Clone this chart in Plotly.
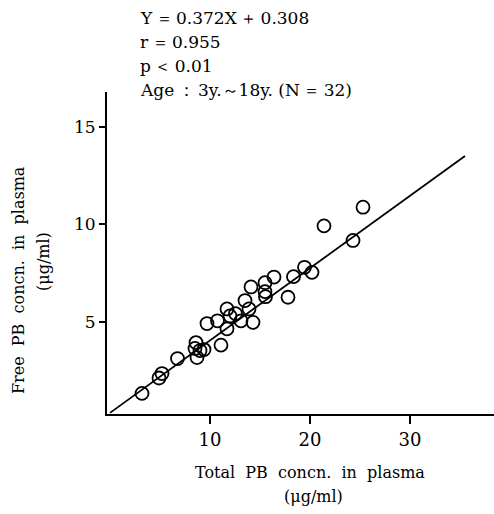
import plotly.graph_objects as go

# Data
total_pb = [3.2, 4.9, 5.2, 6.75, 8.6, 8.5, 9.0, 9.4, 8.7, 11.1, 9.7, 10.75, 11.7, 11.7, 12.0, 12.55,
            13.1, 14.3, 13.5, 13.9, 14.1, 15.5, 15.5, 15.55, 16.4, 17.8, 18.35, 19.45, 20.2, 21.4, 24.3, 25.3]
free_pb = [1.31, 2.10, 2.33, 3.10, 3.92, 3.62, 3.51, 3.56, 3.15, 3.79, 4.90, 5.04, 5.65, 4.63, 5.29, 5.41,
           5.04, 4.96, 6.08, 5.65, 6.78, 7.0, 6.54, 6.28, 7.29, 6.25, 7.31, 7.79, 7.53, 9.92, 9.17, 10.88]
slope = 0.372
intercept = 0.308
line_x = [0, 35.5]
line_y = [slope * x + intercept for x in line_x]
x_ticks = [10, 20, 30]
y_ticks = [5, 10, 15]
stats_lines = ["Y\u2009＝\u20090.372X\u2009＋\u20090.308", "r\u2009＝\u20090.955", "p\u2009＜\u20090.01",
               "Age\u2009：\u20093y.～18y.\u00a0(N\u2009＝\u200932)"]
x_title = "Total\u00a0\u00a0PB\u00a0\u00a0concn.\u00a0\u00a0in\u00a0\u00a0plasma"
y_title = "Free\u00a0\u00a0PB\u00a0\u00a0concn.\u00a0\u00a0in\u00a0\u00a0plasma"
unit = "(μg/ml)"

W, H = 494, 514
L, R, T, B = 107, 0, 92, 100
PW, PH = W - L - R, H - T - B


def px(x):
    return (x - L) / PW


def py(y):
    return (H - B - y) / PH


FONT = "DejaVu Serif, Liberation Serif, serif"

fig = go.Figure()
fig.add_trace(go.Scatter(x=line_x, y=line_y, mode="lines",
                         line=dict(color="black", width=1.8), showlegend=False))
fig.add_trace(go.Scatter(x=total_pb, y=free_pb, mode="markers",
                         marker=dict(symbol="circle-open", size=13, color="black",
                                     line=dict(width=1.8, color="black")),
                         showlegend=False))

fig.update_xaxes(range=[-0.3, 38.4], tickvals=x_ticks, ticks="outside", ticklen=8, tickwidth=1.5,
                 tickcolor="black", showline=True, linecolor="black", linewidth=2,
                 showgrid=False, zeroline=False,
                 tickfont=dict(family=FONT, size=18, color="black"))
fig.update_yaxes(range=[0.25, 16.8], tickvals=y_ticks, ticks="outside", ticklen=6, tickwidth=1.5,
                 tickcolor="black", showline=True, linecolor="black", linewidth=2,
                 showgrid=False, zeroline=False,
                 tickfont=dict(family=FONT, size=17, color="black"))

ann = []
ys = [18, 42, 66, 90]
for t, yy in zip(stats_lines, ys):
    ann.append(dict(text=t, x=px(138), y=py(yy), xref="paper", yref="paper",
                    xanchor="left", yanchor="middle", showarrow=False,
                    font=dict(family=FONT, size=17, color="black")))
ann.append(dict(text=y_title, x=px(18), y=py(280), xref="paper", yref="paper",
                textangle=-90, showarrow=False, xanchor="center", yanchor="middle",
                font=dict(family=FONT, size=16, color="black")))
ann.append(dict(text=unit, x=px(43), y=py(262), xref="paper", yref="paper",
                textangle=-90, showarrow=False, xanchor="center", yanchor="middle",
                font=dict(family=FONT, size=16, color="black")))
ann.append(dict(text=x_title, x=px(310), y=py(472), xref="paper", yref="paper",
                showarrow=False, xanchor="center", yanchor="middle",
                font=dict(family=FONT, size=16, color="black")))
ann.append(dict(text=unit, x=px(313), y=py(497), xref="paper", yref="paper",
                showarrow=False, xanchor="center", yanchor="middle",
                font=dict(family=FONT, size=16, color="black")))

fig.update_layout(width=W, height=H, margin=dict(l=L, r=R, t=T, b=B),
                  paper_bgcolor="white", plot_bgcolor="white", annotations=ann,
                  showlegend=False)

fig.write_html("out.html")
